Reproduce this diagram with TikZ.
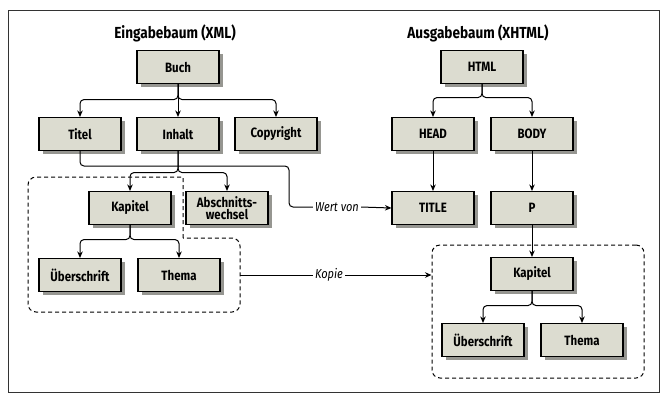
\documentclass[tikz,border=0pt]{standalone}
\usepackage{fontspec}
\setmainfont{Fira Sans}
\newfontfamily\cf[FakeStretch=0.85]{Fira Sans}
\usetikzlibrary{shadows,arrows.meta}
\definecolor{boxfill}{RGB}{220,220,208}
\definecolor{shadowc}{RGB}{150,150,145}
\begin{document}
\begin{tikzpicture}[x=1pt,y=-1pt,
  box/.style={draw=black, line width=1.1pt, fill=boxfill, minimum width=82pt, minimum height=33pt,
    inner sep=1pt, align=center, font=\cf\bfseries\fontsize{13.5}{12.5}\selectfont,
    drop shadow={shadow xshift=3.5pt, shadow yshift=-3.5pt, fill=shadowc, opacity=1}},
  ttl/.style={font=\cf\bfseries\fontsize{16}{17}\selectfont, inner sep=0pt},
  lbl/.style={font=\cf\itshape\fontsize{13}{13}\selectfont, inner sep=2pt},
  conn/.style={line width=1pt, rounded corners=4pt},
  arr/.style={conn, -{Stealth[length=6.5pt,width=5.5pt]}},
  dashbox/.style={line width=1pt, dash pattern=on 4pt off 3pt}
]
\fill[white] (0,0) rectangle (668,400);
\useasboundingbox (0,0) rectangle (668,400);
\draw[line width=1pt, black!80] (8,10) rectangle (659,392);

% titles
\node[ttl] (t1) at (175,33) {Eingabebaum (XML)};
\node[ttl] (t2) at (478,33) {Ausgabebaum (XHTML)};

% dashed regions
\draw[dashbox] (183,238) -- (183,177) [rounded corners=8pt] -- (28,177) -- (28,312) -- (240,312) -- (240,238) [sharp corners] -- cycle;
\coordinate (cpl) at (240,275);
\node[dashbox, draw, rounded corners=8pt, minimum width=212pt, minimum height=133pt, inner sep=0pt] (copybox) at (538,311.5) {};

% left tree
\node[box] (buch) at (178,67) {Buch};
\node[box] (titel) at (80,134) {Titel};
\node[box] (inhalt) at (178,134) {Inhalt};
\node[box] (copy) at (276,134) {Copyright};
\node[box] (kap1) at (130,208) {Kapitel};
\node[box] (absw) at (227,208) {Abschnitts-\\wechsel};
\node[box] (ueb1) at (80,275) {Überschrift};
\node[box] (thema1) at (179,275) {Thema};

% right tree
\node[box] (html) at (482,67) {HTML};
\node[box] (head) at (433,134) {HEAD};
\node[box] (body) at (532,134) {BODY};
\node[box] (title) at (433,208) {TITLE};
\node[box] (p) at (532,208) {P};
\node[box] (kap2) at (532,274) {Kapitel};
\node[box] (ueb2) at (483,340) {Überschrift};
\node[box] (thema2) at (582,340) {Thema};

% labels
\node[lbl] (wert) at (337,207) {Wert von};
\node[lbl] (kopie) at (329,275) {Kopie};

% left connectors
\draw[arr] (buch.south) -- ++(0,15.5) -| (titel.north);
\draw[arr] (buch.south) -- (inhalt.north);
\draw[arr] (buch.south) -- ++(0,15.5) -| (copy.north);
\draw[arr] (inhalt.south) -- ++(0,21.5) -| (kap1.north);
\draw[arr] (inhalt.south) -- ++(0,21.5) -| (absw.north);
\draw[arr] (kap1.south) -- ++(0,14.5) -| (ueb1.north);
\draw[arr] (kap1.south) -- ++(0,14.5) -| (thema1.north);

% right connectors
\draw[arr] (html.south) -- ++(0,13.5) -| (head.north);
\draw[arr] (html.south) -- ++(0,13.5) -| (body.north);
\draw[arr] (head.south) -- (title.north);
\draw[arr] (body.south) -- (p.north);
\draw[arr] (p.south) -- (kap2.north);
\draw[arr] (kap2.south) -- ++(0,14.5) -| (ueb2.north);
\draw[arr] (kap2.south) -- ++(0,14.5) -| (thema2.north);

% cross connectors
\draw[conn] (titel.south) |- (289,166) |- (wert.west);
\draw[arr] (wert.east) -- (title.west);
\draw[conn] (cpl) -- (kopie.west);
\draw[arr] (kopie.east) -- (copybox.west |- kopie.east);
\end{tikzpicture}
\end{document}
